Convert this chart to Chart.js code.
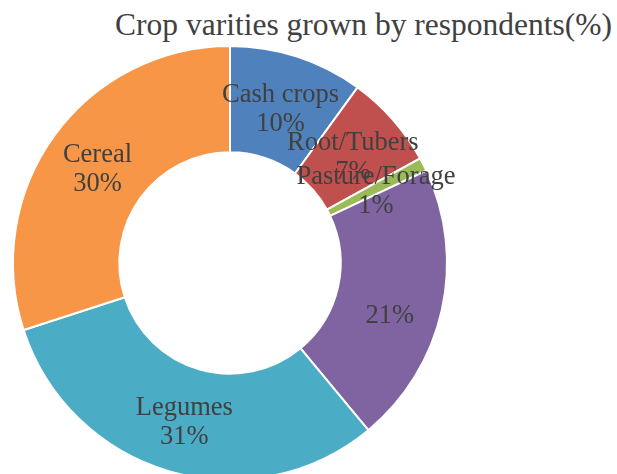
<!DOCTYPE html>
<html>
<head>
<meta charset="utf-8">
<script src="https://cdn.jsdelivr.net/npm/chart.js@4.4.1/dist/chart.umd.min.js"></script>
<style>
  html, body { margin: 0; padding: 0; background: #fff; overflow: hidden; }
  body { width: 617px; height: 474px; position: relative; }
  #title {
    position: absolute; right: 5px; top: 7px;
    font-family: "Liberation Serif", "Times New Roman", serif;
    font-size: 31.5px; line-height: 36px; color: #404040; white-space: nowrap;
  }
  #wrap { position: absolute; left: 0; top: 0; width: 617px; height: 481px; }
</style>
</head>
<body>
<div id="title">Crop varities grown by respondents(%)</div>
<div id="wrap"><canvas id="cropChart"></canvas></div>
<script>
// Crop varieties grown by respondents, percent share
const categories = ["Cash crops", "Root/Tubers", "Pasture/Forage", "", "Legumes", "Cereal"];
const shares = [10, 7, 1, 21, 31, 30];
const colors = ["#4F81BD", "#C0504D", "#9BBB59", "#8064A2", "#4BACC6", "#F79646"];

// Category name + percentage written in the middle of each ring segment
const sliceLabels = {
  id: "sliceLabels",
  afterDatasetsDraw(chart) {
    const ctx = chart.ctx;
    const meta = chart.getDatasetMeta(0);
    ctx.save();
    ctx.font = "26.5px 'Liberation Serif', 'Times New Roman', serif";
    ctx.fillStyle = "#404040";
    ctx.textAlign = "center";
    ctx.textBaseline = "middle";
    meta.data.forEach((arc, i) => {
      const p = arc.tooltipPosition();
      ctx.fillText(categories[i], p.x, p.y - 12);
      ctx.fillText(shares[i] + "%", p.x, p.y + 17);
    });
    ctx.restore();
  }
};

new Chart(document.getElementById("cropChart"), {
  type: "doughnut",
  data: {
    labels: categories,
    datasets: [{
      data: shares,
      backgroundColor: colors,
      borderColor: "#ffffff",
      borderWidth: 2
    }]
  },
  options: {
    responsive: true,
    maintainAspectRatio: false,
    animation: false,
    cutout: "51%",
    layout: { padding: { top: 45, left: 12, right: 169, bottom: 0 } },
    plugins: {
      legend: { display: false },
      title: { display: false },
      tooltip: { enabled: false }
    }
  },
  plugins: [sliceLabels]
});
</script>
</body>
</html>
